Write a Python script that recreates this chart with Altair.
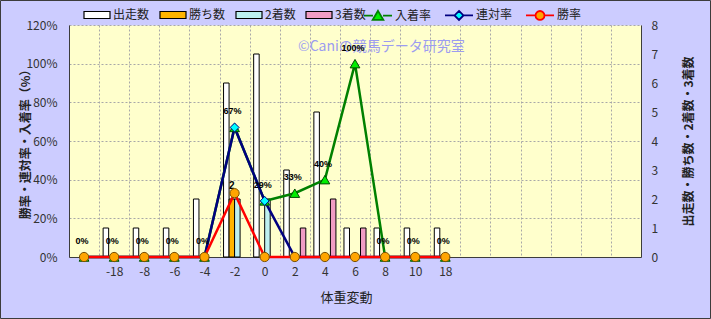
import altair as alt
import pandas as pd

FONT = "Noto Sans CJK JP"

# ---- data ----
categories = ["", "-18", "-8", "-6", "-4", "-2", "0", "2", "4", "6", "8", "10", "18"]
empty_slots = [" ", "  ", "   ", "    ", "     ", "      "]
starts = [0, 1, 1, 1, 2, 6, 7, 3, 5, 1, 1, 1, 1]
wins = [0, 0, 0, 0, 0, 2, 0, 0, 0, 0, 0, 0, 0]
seconds = [0, 0, 0, 0, 0, 2, 2, 0, 0, 0, 0, 0, 0]
thirds = [0, 0, 0, 0, 0, 0, 0, 1, 2, 1, 0, 0, 0]
place_rate = [0, 0, 0, 0, 0, 67, 29, 33, 40, 100, 0, 0, 0]
rentai_rate = [0, 0, 0, 0, 0, 67, 29, 0, 0, 0, 0, 0, 0]
win_rate = [0, 0, 0, 0, 0, 33, 0, 0, 0, 0, 0, 0, 0]

count_series = ["出走数", "勝ち数", "2着数", "3着数"]
count_colors = ["#FFFFFF", "#FFB400", "#BDF0F0", "#F09CC4"]
rate_series = ["入着率", "連対率", "勝率"]
line_colors = ["#008000", "#000080", "#FF0000"]
marker_fills = ["#00EE00", "#00FFFF", "#FFA500"]
marker_strokes = ["#004C00", "#000080", "#7A5000"]
marker_shapes = ["triangle-up", "diamond", "circle"]
marker_sizes = [95, 80, 85]
legend_shapes = [
    "M-1,0H-0.36M0.36,0H1M0,-0.34L0.38,0.3L-0.38,0.3Z",
    "M-1,0H-0.32M0.32,0H1M0,-0.32L0.32,0L0,0.32L-0.32,0Z",
    "M-1,0H-0.32M0.32,0H1M-0.32,0A0.32,0.32,0,1,0,0.32,0A0.32,0.32,0,1,0,-0.32,0Z",
]
x_domain = categories + empty_slots
pct_ticks = [0, 20, 40, 60, 80, 100, 120]
count_ticks = [0, 1, 2, 3, 4, 5, 6, 7, 8]
watermark_text = "©Caniの競馬データ研究室"

rows_c = []
for i, c in enumerate(categories):
    for s, vals in zip(count_series, [starts, wins, seconds, thirds]):
        rows_c.append({"category": c, "series": s, "value": vals[i], "idx": i})
counts_df = pd.DataFrame(rows_c)

rows_r = []
for i, c in enumerate(categories):
    for s, vals in zip(rate_series, [place_rate, rentai_rate, win_rate]):
        rows_r.append({"category": c, "series": s, "rate": vals[i],
                       "label": f"{vals[i]}%", "idx": i})
rates_df = pd.DataFrame(rows_r)

# ---- encodings ----
x_enc = alt.X(
    "category:N",
    scale=alt.Scale(domain=x_domain, paddingInner=0, paddingOuter=0),
    axis=alt.Axis(
        title="体重変動", labelAngle=0, grid=True, tickBand="extent",
        ticks=False, tickSize=0, labelPadding=9, labelFontSize=12,
        titleX=277, titleY=40, titleAlign="center", titleBaseline="middle",
        titleFontSize=13, titleFontWeight="normal",
    ),
)
x_off = alt.XOffset("series:N", scale=alt.Scale(domain=count_series, paddingInner=0, paddingOuter=0.73))

y_count = alt.Y(
    "value:Q",
    scale=alt.Scale(domain=[0, 8], nice=False),
    axis=alt.Axis(
        orient="right", values=count_ticks, grid=False, ticks=False, tickSize=0,
        labelPadding=10, labelFontSize=12,
        title="出走数・勝ち数・2着数・3着数", titleAngle=270, titleX=47, titleY=116,
        titleAlign="center", titleBaseline="middle", titleFontSize=12,
        titleFontWeight="bold",
    ),
)
y_rate = alt.Y(
    "rate:Q",
    scale=alt.Scale(domain=[0, 120], nice=False),
    axis=alt.Axis(
        orient="left", values=pct_ticks, labelExpr="datum.value + '%'", grid=True,
        ticks=False, tickSize=0, labelPadding=12, labelFontSize=12,
        title="勝率・連対率・入着率（%）", titleAngle=270, titleX=-44, titleY=116,
        titleAlign="center", titleBaseline="middle", titleFontSize=12,
        titleFontWeight="bold",
    ),
)

bar_legend = alt.Legend(
    title=None, orient="none", legendX=14, legendY=-24, direction="horizontal",
    symbolType="M-1,-0.27H1V0.27H-1Z", symbolSize=676, symbolStrokeColor="#000000",
    symbolStrokeWidth=1.2, labelFontSize=12, labelOffset=2, columnPadding=7,
    padding=0, labelFont=FONT, labelColor="#222222",
)

# ---- layers ----
frame = alt.Chart(pd.DataFrame({"a": [0]})).mark_rect(
    fillOpacity=0, stroke="#3C3C3C", strokeWidth=1
).encode(x=alt.value(-68.5), x2=alt.value(641.5), y=alt.value(-24.5), y2=alt.value(293.5))

watermark = alt.Chart(pd.DataFrame({"t": [watermark_text]})).mark_text(
    align="left", baseline="middle", fontSize=14, color="#9C9CF0", font=FONT
).encode(x=alt.value(229), y=alt.value(22), text="t:N")

bars = alt.Chart(counts_df).transform_filter(alt.datum.value > 0).mark_bar(
    stroke="#000000", strokeWidth=1, opacity=1
).encode(
    x=x_enc, xOffset=x_off, y=y_count,
    fill=alt.Fill("series:N", scale=alt.Scale(domain=count_series, range=count_colors), legend=bar_legend),
)

win_label = alt.Chart(counts_df).transform_filter(
    (alt.datum.series == "勝ち数") & (alt.datum.value > 0)
).mark_text(dy=-13, fontSize=10, fontWeight="bold", color="#000000", font="Liberation Sans").encode(
    x=x_enc, xOffset=x_off, y=y_count, text="value:Q"
)

count_layer = alt.layer(bars, win_label)

lines = []
for k in range(3):
    lines.append(
        alt.Chart(rates_df).transform_filter(alt.datum.series == rate_series[k]).mark_line(
            color=line_colors[k], strokeWidth=2.5
        ).encode(x=x_enc, y=y_rate, order="idx:Q")
    )
points = []
for k in range(3):
    points.append(
        alt.Chart(rates_df).transform_filter(alt.datum.series == rate_series[k]).mark_point(
            shape=marker_shapes[k], filled=True, fill=marker_fills[k], stroke=marker_strokes[k],
            strokeWidth=1, size=marker_sizes[k], opacity=1
        ).encode(x=x_enc, y=y_rate)
    )
place_labels = alt.Chart(rates_df).transform_filter(alt.datum.series == "入着率").mark_text(
    dx=-2, dy=-16, fontSize=9, fontWeight="bold", color="#000000", font="Liberation Sans"
).encode(x=x_enc, y=y_rate, text="label:N")

rate_layer = alt.layer(*lines, *points, place_labels)

line_legend_props = dict(
    title=None, orient="none", legendX=294, legendY=-25, direction="horizontal",
    symbolSize=784, symbolStrokeWidth=1.8, labelFontSize=12, labelOffset=2,
    columnPadding=9, padding=0, labelFont=FONT, labelColor="#222222",
)
legend_layer = alt.Chart(rates_df).transform_filter("false").mark_point(
    filled=True, strokeWidth=2, opacity=1
).encode(
    shape=alt.Shape("series:N", scale=alt.Scale(domain=rate_series, range=legend_shapes),
                    legend=alt.Legend(**line_legend_props)),
    fill=alt.Fill("series:N", scale=alt.Scale(domain=rate_series, range=marker_fills),
                  legend=alt.Legend(**line_legend_props)),
    stroke=alt.Stroke("series:N", scale=alt.Scale(domain=rate_series, range=line_colors),
                      legend=alt.Legend(**line_legend_props)),
)

chart = alt.layer(frame, watermark, count_layer, rate_layer, legend_layer).resolve_scale(
    y="independent", fill="independent", shape="independent", stroke="independent"
).properties(
    width=572, height=232,
    padding={"left": 69, "top": 25, "right": 70, "bottom": 62},
    autosize=alt.AutoSizeParams(type="none"),
    view=alt.ViewBackground(fill="#FFFFCC", strokeOpacity=0),
).configure(
    background="#CCCCFF", font=FONT
).configure_view(
    fill="#FFFFCC", strokeOpacity=0
).configure_axis(
    labelFont=FONT, titleFont=FONT, labelColor="#333333", titleColor="#222222",
    domainColor="#3C3C3C", domainWidth=1, gridColor="#A8A8A8", gridDash=[2, 2],
    gridWidth=1, gridOpacity=1,
)

chart.save("out.html", embed_options={"renderer": "svg", "actions": False})
